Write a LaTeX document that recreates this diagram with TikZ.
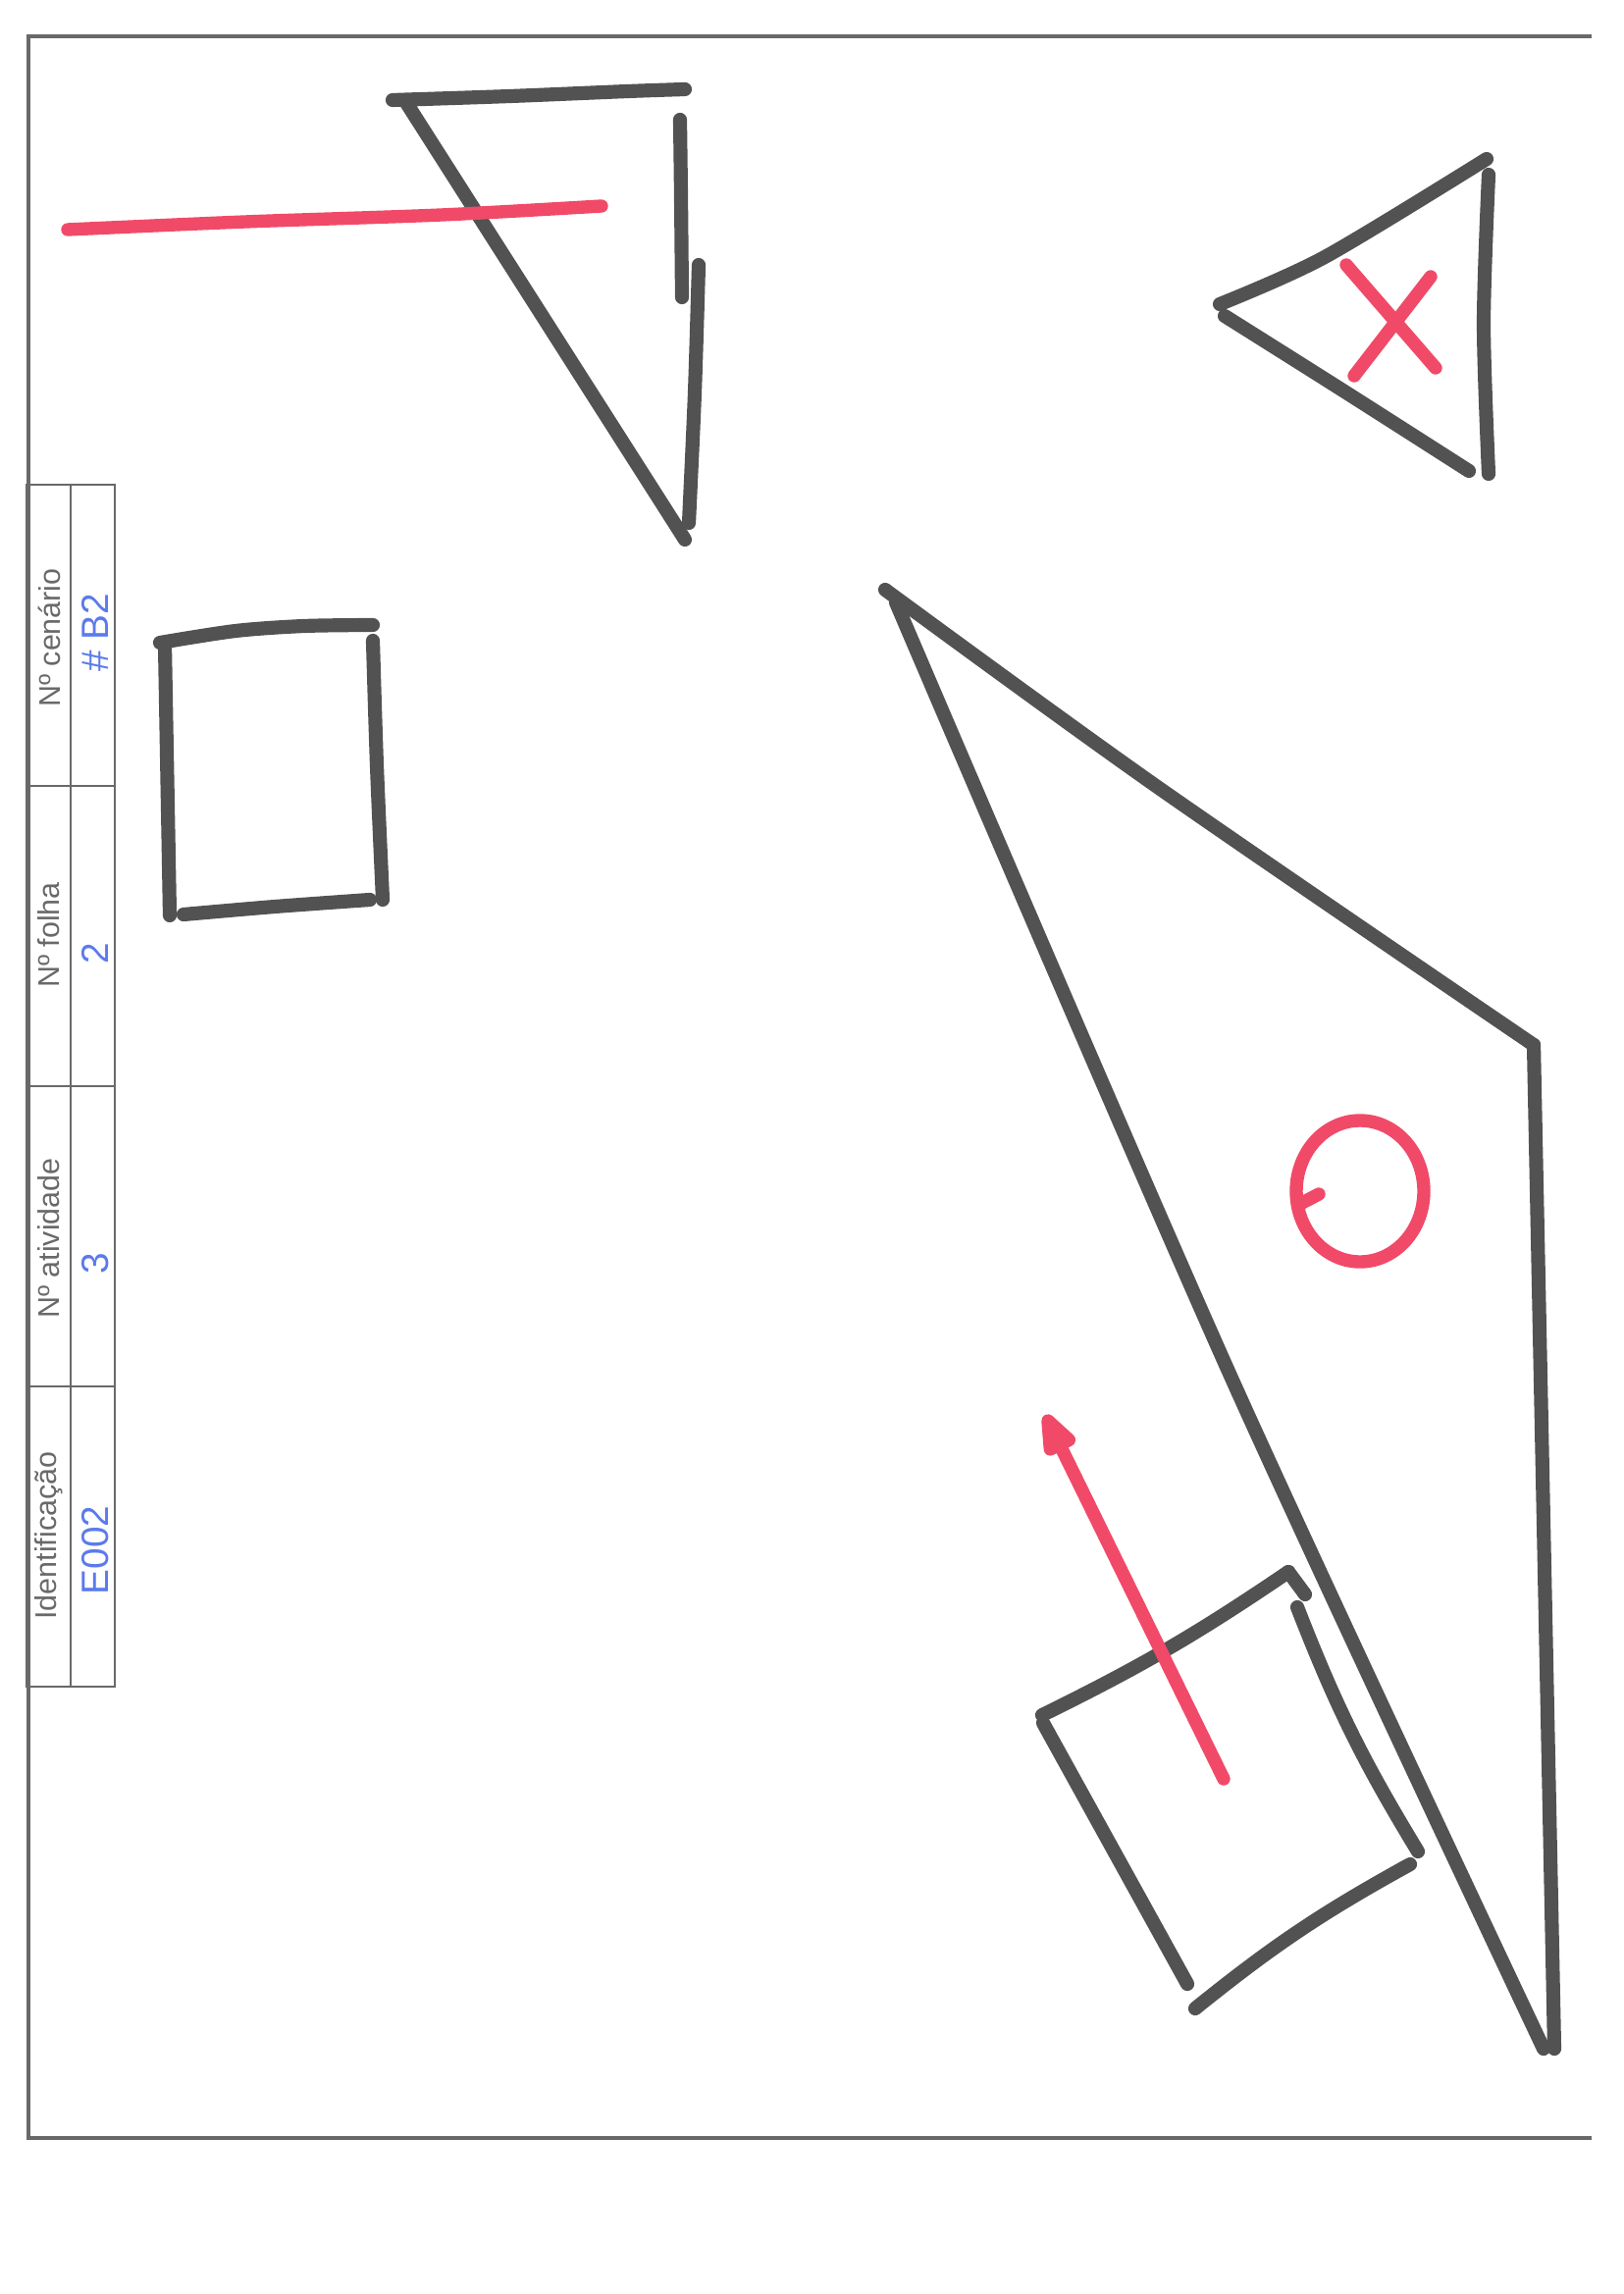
\documentclass[tikz,border=0pt]{standalone}
\usepackage{fontspec}
\usepackage{tikz}
\usetikzlibrary{arrows.meta}
\newfontfamily\formfont{Liberation Sans}
\definecolor{markergray}{RGB}{82,82,82}
\definecolor{markerred}{RGB}{240,74,104}
\definecolor{penblue}{RGB}{92,122,236}
\definecolor{formgray}{RGB}{105,105,105}

\begin{document}
\begin{tikzpicture}[
                x=0.127mm, y=-0.127mm,
                ink/.style={draw=markergray, line width=1.8mm, line cap=round, line join=round},
                redink/.style={draw=markerred, line width=1.7mm, line cap=round, line join=round},
                frame/.style={draw=formgray, line width=0.4mm},
                cell/.style={draw=formgray, line width=0.28mm},
                head/.style={rotate=90, font=\formfont\fontsize{11}{13}\selectfont, text=formgray, inner sep=0pt},
                hand/.style={rotate=90, font=\formfont\fontsize{14}{16}\selectfont, text=penblue, inner sep=0pt}
            ]
            \useasboundingbox (0,0) rectangle (1654,2338);
            % Sheet frame (open on the right)
            \draw[frame] (1622,37) -- (29,37) -- (29,2179) -- (1622,2179);

            % Form box
            \draw[cell] (27,494) rectangle (117,1719);
            \draw[cell] (72,494) -- (72,1719);
            \foreach \yrow in {801,1107,1413}
                \draw[cell] (27,\yrow) -- (117,\yrow);
            \node[head] (hcen) at (50,650) {Nº cenário};
            \node[head] (hfol) at (50,953) {Nº folha};
            \node[head] (hati) at (50,1262) {Nº atividade};
            \node[head] (hid) at (50,1565) {Identificação};
            \node[hand] (vcen) at (97,645) {\# B2};
            \node[hand] (vfol) at (97,972) {2};
            \node[hand] (vati) at (97,1288) {3};
            \node[hand] (vid) at (97,1580) {E002};

            % Top triangle and red line
            \draw[ink] plot[smooth] coordinates {(400,102) (520,98) (640,93) (698,91)};
            \draw[ink] plot[smooth] coordinates {(693,122) (694,200) (695,303)};
            \draw[ink] plot[smooth] coordinates {(712,270) (708,400) (702,533)};
            \draw[ink] (413,103) -- (698,550);
            \draw[redink] plot[smooth] coordinates {(69,234) (250,226) (450,219) (613,210)};

            % Small triangle with cross
            \draw[ink] plot[smooth] coordinates {(1243,310) (1350,262) (1515,162)};
            \draw[ink] plot[smooth] coordinates {(1248,322) (1367,397) (1497,480)};
            \draw[ink] plot[smooth] coordinates {(1517,178) (1512,330) (1517,483)};
            \draw[redink] (1372,270) -- (1463,375);
            \draw[redink] (1380,383) -- (1458,282);

            % Left rectangle
            \draw[ink] plot[smooth] coordinates {(163,655) (240,643) (310,638) (380,637)};
            \draw[ink] (168,657) -- (173,933);
            \draw[ink] plot[smooth] coordinates {(187,932) (280,924) (377,917)};
            \draw[ink] plot[smooth] coordinates {(380,653) (384,780) (390,917)};

            % Big triangle with circle
            \draw[ink] plot[smooth] coordinates {(902,601) (1178,801) (1563,1065)};
            \draw[ink] (1563,1065) -- (1584,2088);
            \draw[ink] plot[smooth] coordinates {(913,614) (1253,1400) (1573,2088)};
            \draw[redink] (1386,1214) ellipse [x radius=65, y radius=72];
            \draw[redink] (1323,1228) -- (1344,1217);

            % Tilted square and arrow
            \draw[ink] (1062,1748) to[bend right=4] (1313,1602);
            \draw[ink] (1313,1602) -- (1330,1625);
            \draw[ink] (1322,1638) to[bend right=5] (1445,1887);
            \draw[ink] (1437,1900) to[bend right=5] (1218,2047);
            \draw[ink] (1063,1756) -- (1210,2022);
            \draw[redink, -{Triangle[length=7mm, width=4.6mm, round]}] (1247,1813) -- (1065,1442);
\end{tikzpicture}
\end{document}
